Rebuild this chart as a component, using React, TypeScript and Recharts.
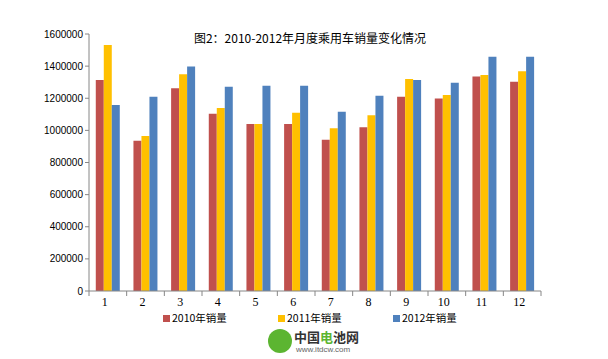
import { Bar, BarChart, XAxis, YAxis } from "recharts";

const months = ["1", "2", "3", "4", "5", "6", "7", "8", "9", "10", "11", "12"];
const sales2010 = [1314000, 936000, 1262000, 1104000, 1040000, 1040000, 942000, 1019000, 1210000, 1199000, 1336000, 1303000];
const sales2011 = [1531000, 965000, 1349000, 1139000, 1040000, 1110000, 1013000, 1094000, 1320000, 1220000, 1345000, 1368000];
const sales2012 = [1158000, 1210000, 1397000, 1272000, 1278000, 1278000, 1116000, 1216000, 1314000, 1297000, 1459000, 1459000];
const yTicks = [0, 200000, 400000, 600000, 800000, 1000000, 1200000, 1400000, 1600000];

const series = [
  { key: "y2010", name: "2010年销量", color: "#C0504D" },
  { key: "y2011", name: "2011年销量", color: "#FFC000" },
  { key: "y2012", name: "2012年销量", color: "#4F81BD" },
];

const data = months.map((m, i) => ({
  month: m,
  y2010: sales2010[i],
  y2011: sales2011[i],
  y2012: sales2012[i],
}));

const W = 608;
const H = 359;
const LEFT = 89;
const RIGHT = 541;
const X_AXIS_H = 30;
const band = (RIGHT - LEFT) / months.length;

function MonthTick(props: any) {
  const { x, y, payload, index } = props;
  return (
    <g>
      <line x1={x - band / 2} y1={y - 8} x2={x - band / 2} y2={y - 3} stroke="#868686" />
      {index === months.length - 1 && (
        <line x1={x + band / 2} y1={y - 8} x2={x + band / 2} y2={y - 3} stroke="#868686" />
      )}
      <text x={x - 3} y={y + 7} textAnchor="middle" fontSize={12} fontFamily="Liberation Serif" fill="#000">
        {payload.value}
      </text>
    </g>
  );
}

export default function App() {
  return (
    <div style={{ position: "absolute", left: 0, top: 0, width: W, height: H, background: "#fff" }}>
      <div
        style={{
          position: "absolute",
          top: 29,
          left: 0,
          width: 620,
          textAlign: "center",
          fontFamily: "'Noto Sans CJK SC'",
          fontSize: 12,
          color: "#000",
        }}
      >
        图2：2010-2012年月度乘用车销量变化情况
      </div>

      <BarChart
        width={W}
        height={H}
        data={data}
        margin={{ top: 34, right: W - RIGHT, bottom: H - 291 - X_AXIS_H, left: 0 }}
        barCategoryGap="18%"
        barGap={0}
      >
        <XAxis
          dataKey="month"
          axisLine={{ stroke: "#868686" }}
          tickLine={false}
          tick={<MonthTick />}
          interval={0}
          height={X_AXIS_H}
        />
        <YAxis
          width={LEFT}
          domain={[0, 1600000]}
          ticks={yTicks}
          axisLine={{ stroke: "#868686" }}
          tickLine={{ stroke: "#868686" }}
          tickSize={4}
          tick={{ fontSize: 10, fill: "#000", fontFamily: "Liberation Sans" }}
          interval={0}
        />
        {series.map((s) => (
          <Bar key={s.key} dataKey={s.key} name={s.name} fill={s.color} isAnimationActive={false} />
        ))}
      </BarChart>

      {series.map((s, i) => (
        <div
          key={s.key}
          style={{
            position: "absolute",
            top: 311,
            left: 163 + i * 115,
            display: "flex",
            alignItems: "center",
            fontFamily: "'Noto Sans CJK SC'",
            fontSize: 10.5,
            lineHeight: "14px",
            color: "#000",
          }}
        >
          <span style={{ width: 7, height: 7, background: s.color, marginRight: 2, display: "inline-block" }} />
          {s.name}
        </div>
      ))}

      <div style={{ position: "absolute", top: 329, left: 268, width: 24, height: 24, borderRadius: 12, background: "#5cb531" }} />
      <div
        style={{
          position: "absolute",
          top: 330,
          left: 294,
          fontFamily: "'Noto Sans CJK SC'",
          fontSize: 13,
          fontWeight: 700,
          color: "#333",
          lineHeight: "14px",
        }}
      >
        中国<span style={{ color: "#5cb531" }}>电</span>池网
      </div>
      <div
        style={{
          position: "absolute",
          top: 345,
          left: 296,
          fontFamily: "Liberation Sans",
          fontSize: 8,
          lineHeight: "10px",
          color: "#666",
        }}
      >
        www.itdcw.com
      </div>
    </div>
  );
}
